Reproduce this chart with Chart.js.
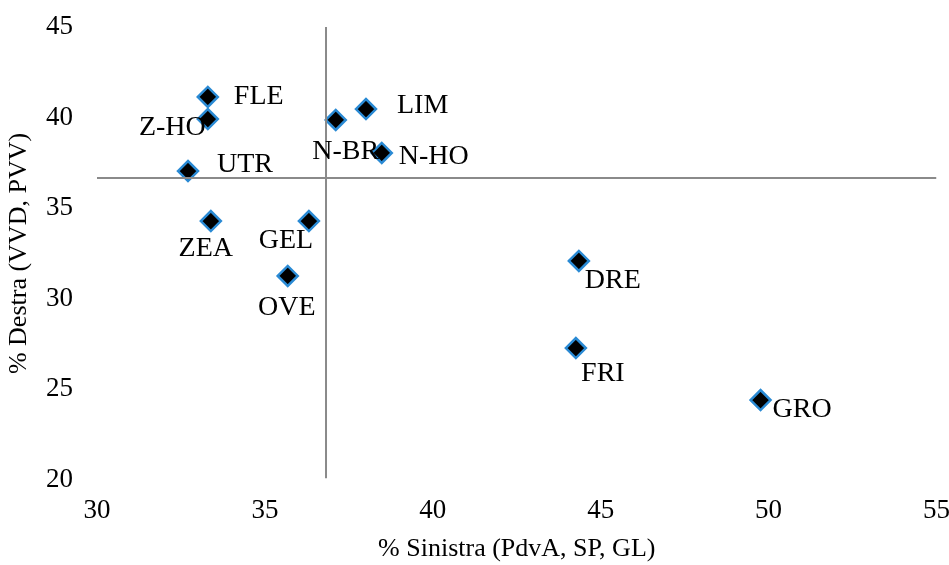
<!DOCTYPE html>
<html>
<head>
<meta charset="utf-8">
<script src="https://cdn.jsdelivr.net/npm/chart.js@4/dist/chart.umd.min.js"></script>
<style>
  html, body { margin: 0; padding: 0; background: #fff; }
  #wrap { width: 949px; height: 565px; }
</style>
</head>
<body>
<div id="wrap"><canvas id="c" width="949" height="565"></canvas></div>
<script>
// ---- data ----
const provinces = ['FLE', 'Z-HO', 'UTR', 'N-BR', 'LIM', 'N-HO', 'ZEA', 'GEL', 'OVE', 'DRE', 'FRI', 'GRO'];
const leftShare  = [33.30, 33.30, 32.71, 37.11, 38.01, 38.48, 33.39, 36.31, 35.68, 44.35, 44.26, 49.76];
const rightShare = [41.14, 39.92, 37.05, 39.87, 40.47, 38.05, 34.29, 34.29, 31.26, 32.09, 27.28, 24.41];
const meanLeft  = 36.82;
const meanRight = 36.67;
const xTicks = [30, 35, 40, 45, 50, 55];
const yTicks = [20, 25, 30, 35, 40, 45];
const xTitle = '% Sinistra (PdvA, SP, GL)';
const yTitle = '% Destra (VVD, PVV)';

// ---- label placement (layout only) ----
const labelPlacement = {
  'FLE':  { dx: 26, dy: 0,  align: 'left' },
  'Z-HO': { dx: -2, dy: 9,  align: 'right' },
  'UTR':  { dx: 29, dy: -6, align: 'left' },
  'N-BR': { dx: 10, dy: 32, align: 'center' },
  'LIM':  { dx: 31, dy: -3, align: 'left' },
  'N-HO': { dx: 17, dy: 4,  align: 'left' },
  'ZEA':  { dx: -5, dy: 28, align: 'center' },
  'GEL':  { dx: -23, dy: 20, align: 'center' },
  'OVE':  { dx: -1, dy: 32, align: 'center' },
  'DRE':  { dx: 34, dy: 20, align: 'center' },
  'FRI':  { dx: 27, dy: 26, align: 'center' },
  'GRO':  { dx: 12, dy: 10, align: 'left' }
};

const FONT = "'Liberation Serif', 'Times New Roman', serif";

const points = provinces.map((p, i) => ({ x: leftShare[i], y: rightShare[i] }));

const labelPlugin = {
  id: 'pointLabels',
  afterDatasetsDraw(chart) {
    const meta = chart.getDatasetMeta(2);
    const ctx = chart.ctx;
    ctx.save();
    ctx.font = '28px ' + FONT;
    ctx.fillStyle = '#000';
    ctx.textBaseline = 'middle';
    meta.data.forEach((el, i) => {
      const name = provinces[i];
      const pl = labelPlacement[name];
      ctx.textAlign = pl.align;
      ctx.fillText(name, el.x + pl.dx, el.y + pl.dy);
    });
    ctx.restore();
  }
};

new Chart(document.getElementById('c'), {
  type: 'scatter',
  data: {
    datasets: [
      {
        type: 'line',
        data: [{ x: meanLeft, y: 20.1 }, { x: meanLeft, y: 45 }],
        borderColor: '#8a8a8a',
        borderWidth: 2,
        pointRadius: 0,
        fill: false
      },
      {
        type: 'line',
        data: [{ x: 30, y: meanRight }, { x: 55, y: meanRight }],
        borderColor: '#8a8a8a',
        borderWidth: 2,
        pointRadius: 0,
        fill: false
      },
      {
        data: points,
        pointStyle: 'rectRot',
        pointRadius: 10,
        pointHoverRadius: 10,
        backgroundColor: '#000000',
        borderColor: '#2a8ad4',
        borderWidth: 2.5
      }
    ]
  },
  options: {
    responsive: false,
    animation: false,
    devicePixelRatio: 1,
    layout: { padding: { top: 27, right: 12, left: 0, bottom: 0 } },
    plugins: {
      legend: { display: false },
      tooltip: { enabled: false }
    },
    scales: {
      x: {
        type: 'linear',
        min: 30, max: 55,
        afterBuildTicks(scale) { scale.ticks = xTicks.map(v => ({ value: v })); },
        afterFit(scale) { scale.height = 85; scale.paddingLeft = 0; scale.paddingRight = 0; },
        grid: { display: false, drawTicks: false },
        border: { display: false },
        ticks: { color: '#000', font: { family: FONT, size: 27 }, padding: 15 },
        title: { display: true, text: xTitle, color: '#000', font: { family: FONT, size: 26 }, padding: { top: 4, bottom: 0 } }
      },
      y: {
        type: 'linear',
        min: 20, max: 45,
        afterBuildTicks(scale) { scale.ticks = yTicks.map(v => ({ value: v })); },
        afterFit(scale) { scale.width = 97; scale.paddingTop = 0; scale.paddingBottom = 0; },
        grid: { display: false, drawTicks: false },
        border: { display: false },
        ticks: { color: '#000', font: { family: FONT, size: 27 }, padding: 24 },
        title: { display: true, text: yTitle, color: '#000', font: { family: FONT, size: 26 }, padding: { top: 4, bottom: 0 } }
      }
    }
  },
  plugins: [labelPlugin]
});
</script>
</body>
</html>
